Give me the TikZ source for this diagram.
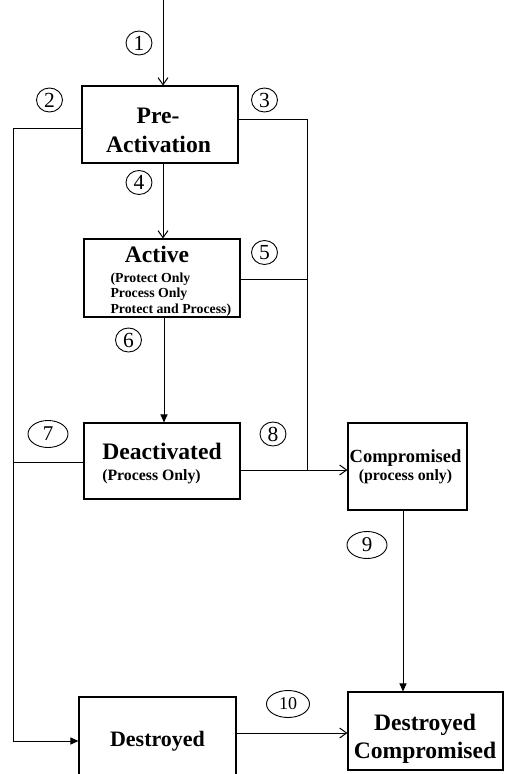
\documentclass[tikz,border=0pt]{standalone}
\usepackage{fontspec}
\setmainfont{Liberation Serif}
\usetikzlibrary{arrows.meta,shapes.geometric}
\begin{document}
\begin{tikzpicture}[x=1pt,y=-1pt,line width=1pt,
  box/.style={draw,line width=1.1pt,inner sep=0pt},
  big/.style={anchor=base,inner sep=0pt,font=\bfseries\fontsize{23.6}{29}\selectfont},
  small/.style={anchor=base,inner sep=0pt,font=\bfseries\fontsize{15.8}{19}\selectfont},
  tiny/.style={anchor=base west,inner sep=0pt,font=\bfseries\fontsize{13.8}{15.5}\selectfont},
  num/.style={draw,ellipse,inner sep=0pt,minimum width=26pt,minimum height=24pt,line width=0.9pt,font=\fontsize{21.5}{21.5}\selectfont},
  oval/.style={num,minimum width=40pt,minimum height=27pt,font=\fontsize{21}{21}\selectfont},
  open/.style={-{Straight Barb[length=7pt,width=10pt]}},
  solid/.style={-{Triangle[length=8pt,width=7pt]}}]
\useasboundingbox (0,0) rectangle (505,774);
\clip (0,0) rectangle (505,774);
% boxes
\node[box,minimum width=156pt,minimum height=77pt] (pre) at (160,124.5) {};
\node[box,minimum width=156pt,minimum height=78pt] (act) at (162,278) {};
\node[box,minimum width=156pt,minimum height=76pt] (deact) at (162,461) {};
\node[box,minimum width=119pt,minimum height=87pt] (comp) at (407.5,466.5) {};
\node[box,minimum width=155pt,minimum height=78pt] (dc) at (425.5,731) {};
\node[box,minimum width=157pt,minimum height=82pt] (dest) at (157.5,738) {};
% texts
\node[big] (preA) at (158,123) {Pre-};
\node[big] (preB) at (158.5,152) {Activation};
\node[big] (actA) at (157,262) {Active};
\node[tiny] (actB) at (110,282) {(Protect Only};
\node[tiny] (actC) at (110,297.5) {Process Only};
\node[tiny] (actD) at (110,313) {Protect and Process)};
\node[big] (deactA) at (162,459) {Deactivated};
\node[small] (deactB) at (151.5,480) {(Process Only)};
\node[big,font=\bfseries\fontsize{18.5}{22}\selectfont] (compA) at (405.5,462) {Compromised};
\node[small] (compB) at (405.5,480) {(process only)};
\node[big,font=\bfseries\fontsize{22}{26}\selectfont] (destA) at (157.5,746) {Destroyed};
\node[big] (dcA) at (425,730) {Destroyed};
\node[big] (dcB) at (425,758) {Compromised};
% numbers
\node[num] (n1) at (139,43) {1};
\node[num] (n2) at (49.5,100) {2};
\node[num] (n3) at (264.5,100) {3};
\node[num] (n4) at (139,182.5) {4};
\node[num] (n5) at (264.5,252.5) {5};
\node[num] (n6) at (128.5,340) {6};
\node[oval] (n7) at (48,434) {7};
\node[num] (n8) at (273,434) {8};
\node[oval] (n9) at (367,545) {9};
\node[oval,minimum width=43pt,font=\fontsize{18}{18}\selectfont] (n10) at (288,704) {10};
% helper coordinates
\coordinate (top) at (163,0);
\coordinate (L) at (13,0);
\coordinate (R) at (307,0);
% connectors
\draw[open] (top) -- (top |- pre.north);
\draw[solid] (pre.west |- 0,128) -- (L |- 0,128) -- (L |- 0,741) -- (dest.west |- 0,741);
\draw (pre.east |- 0,119) -- (R |- 0,119) -- (R |- 0,470);
\draw[open] (top |- pre.south) -- (top |- act.north);
\draw (act.east |- 0,279) -- (R |- 0,279);
\draw[solid] (act.south -| 164,0) -- (deact.north -| 164,0);
\draw (deact.west |- 0,462) -- (L |- 0,462);
\draw[open] (deact.east |- 0,470) -- (comp.west |- 0,470);
\draw[solid] (comp.south -| 403,0) -- (dc.north -| 403,0);
\draw[open] (dest.east |- 0,733) -- (dc.west |- 0,733);
\end{tikzpicture}
\end{document}
